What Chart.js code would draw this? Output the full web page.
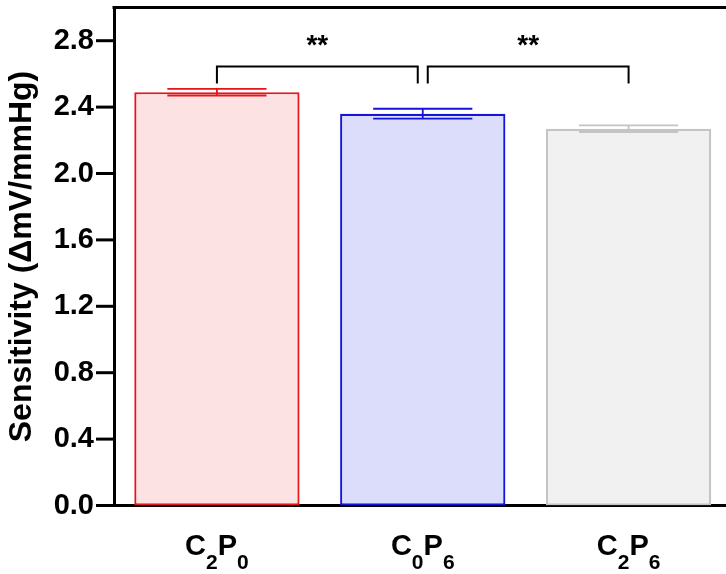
<!DOCTYPE html>
<html><head><meta charset="utf-8">
<script src="https://cdn.jsdelivr.net/npm/chart.js@4"></script>
<style>html,body{margin:0;padding:0;overflow:hidden;background:#fff;width:726px;height:574px}canvas{display:block}</style>
</head><body><canvas id="c" width="745" height="574"></canvas>
<script>
const categories = ['C2P0', 'C0P6', 'C2P6'];
const values = [2.49, 2.36, 2.27];
const errors = [0.02, 0.03, 0.02];
const yMin = 0, yMax = 3.0, yStep = 0.2, yLabelStep = 0.4;
const sigPairs = [[0, 1], [1, 2]];
const sigLabels = ['**', '**'];
const sigTop = [2.645, 2.645];
const sigLeg = [2.542, 2.542];
const starY = [2.79, 2.79];

const fillColors = ['#fde2e3', '#dcdcfb', '#f1f1f1'];
const lineColors = ['#e8141c', '#1515d9', '#c4c4c4'];
const FONT = "'Liberation Sans', Arial, sans-serif";

const deco = {
  id: 'deco',
  afterDatasetsDraw(chart) {
    const ctx = chart.ctx, y = chart.scales.y;
    const meta = chart.getDatasetMeta(0);
    ctx.save();
    meta.data.forEach((bar, i) => {
      const x = bar.x;
      const hi = y.getPixelForValue(values[i] + errors[i]);
      const lo = y.getPixelForValue(values[i] - errors[i]);
      const hw = bar.width * 0.3;
      ctx.strokeStyle = lineColors[i];
      ctx.lineWidth = 1.8;
      ctx.beginPath();
      ctx.moveTo(x, hi); ctx.lineTo(x, lo);
      ctx.moveTo(x - hw, hi); ctx.lineTo(x + hw, hi);
      ctx.moveTo(x - hw, lo); ctx.lineTo(x + hw, lo);
      ctx.stroke();
    });
    ctx.restore();
  },
  afterDraw(chart) {
    const ctx = chart.ctx, y = chart.scales.y, xs = chart.scales.x, ca = chart.chartArea;
    ctx.save();
    ctx.strokeStyle = '#000'; ctx.lineWidth = 3;
    ctx.beginPath(); ctx.moveTo(ca.left - 1.5, ca.top); ctx.lineTo(ca.right + 2, ca.top); ctx.stroke();
    y.ticks.forEach(t => {
      const v = t.value;
      if (v >= yMax - 1e-9) return;
      const py = y.getPixelForValue(v);
      const major = Math.abs(v / yLabelStep - Math.round(v / yLabelStep)) < 1e-6;
      const len = major ? 18 : 7;
      ctx.lineWidth = 3;
      ctx.beginPath(); ctx.moveTo(ca.left - len, py); ctx.lineTo(ca.left, py); ctx.stroke();
    });
    ctx.lineWidth = 2;
    sigPairs.forEach((p, k) => {
      let x1 = xs.getPixelForValue(p[0]);
      let x2 = xs.getPixelForValue(p[1]);
      if (k === 0) x2 -= 5; else x1 += 5;
      const yt = y.getPixelForValue(sigTop[k]);
      const yl = y.getPixelForValue(sigLeg[k]);
      ctx.beginPath();
      ctx.moveTo(x1, yl); ctx.lineTo(x1, yt); ctx.lineTo(x2, yt); ctx.lineTo(x2, yl);
      ctx.stroke();
      ctx.fillStyle = '#000';
      ctx.font = 'bold 28px ' + FONT;
      ctx.textAlign = 'center'; ctx.textBaseline = 'middle';
      ctx.fillText(sigLabels[k], (x1 + x2) / 2, y.getPixelForValue(starY[k]) + 4);
    });
    ctx.textAlign = 'left'; ctx.textBaseline = 'alphabetic'; ctx.fillStyle = '#000';
    const mainF = 'bold 29px ' + FONT, subF = 'bold 21px ' + FONT;
    categories.forEach((lab, i) => {
      const cx = xs.getPixelForValue(i);
      const parts = lab.split('').map(ch => ({ch, sub: /[0-9]/.test(ch)}));
      let w = 0;
      parts.forEach(p => { ctx.font = p.sub ? subF : mainF; p.w = ctx.measureText(p.ch).width; w += p.w; });
      let x = cx - w / 2;
      const base = ca.bottom + 49.5;
      parts.forEach(p => {
        ctx.font = p.sub ? subF : mainF;
        ctx.fillText(p.ch, x, p.sub ? base + 14 : base);
        x += p.w;
      });
    });
    ctx.restore();
  }
};

new Chart(document.getElementById('c'), {
  type: 'bar',
  data: {
    labels: categories,
    datasets: [{
      data: values,
      backgroundColor: fillColors,
      borderColor: lineColors,
      borderWidth: 2.2,
      borderSkipped: false,
      barPercentage: 0.803,
      categoryPercentage: 1.0
    }]
  },
  options: {
    responsive: false,
    animation: false,
    devicePixelRatio: 1,
    layout: { padding: { top: 7.5, right: 13.5, left: 0, bottom: 0 } },
    plugins: { legend: { display: false }, tooltip: { enabled: false } },
    scales: {
      x: {
        grid: { display: false, drawTicks: false },
        border: { display: true, width: 3, color: '#000' },
        ticks: { display: false },
        afterFit(s) { s.height = 68.5; s.paddingLeft = 0; s.paddingRight = 0; }
      },
      y: {
        min: yMin, max: yMax,
        grid: { display: false, drawTicks: false },
        border: { display: true, width: 3, color: '#000' },
        ticks: {
          stepSize: yStep,
          padding: 20,
          color: '#000',
          font: { family: FONT, size: 29, weight: 'bold' },
          callback(v) {
            const r = v / yLabelStep;
            if (Math.abs(r - Math.round(r)) > 1e-6 || v >= yMax - 1e-9) return '';
            return Number(v).toFixed(1);
          }
        },
        title: {
          display: true,
          text: 'Sensitivity (ΔmV/mmHg)',
          color: '#000',
          font: { family: FONT, size: 32, weight: 'bold' },
          padding: { top: 3, bottom: 4 }
        },
        afterFit(s) { s.width = 114; s.paddingTop = 0; s.paddingBottom = 0; }
      }
    }
  },
  plugins: [deco]
});
</script>
</body></html>
